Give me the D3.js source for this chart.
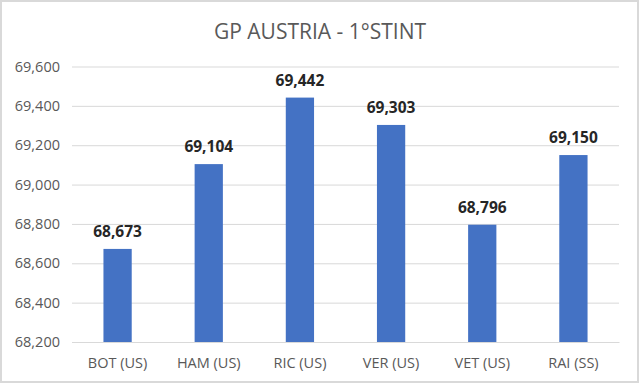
<!DOCTYPE html>
<html>
<head>
<meta charset="utf-8">
<script src="https://cdn.jsdelivr.net/npm/d3@7"></script>
<style>
  html, body { margin: 0; padding: 0; background: #fff; }
  svg { display: block; }
</style>
</head>
<body>
<svg id="chart" width="640" height="385"></svg>
<script>
const title = "GP AUSTRIA - 1°STINT";
const categories = ["BOT (US)", "HAM (US)", "RIC (US)", "VER (US)", "VET (US)", "RAI (SS)"];
const values = [68673, 69104, 69442, 69303, 68796, 69150];
const yTicks = [68200, 68400, 68600, 68800, 69000, 69200, 69400, 69600];

const W = 640, H = 385;
const margin = { left: 72, right: 21, top: 66.5, bottom: 43 };
const svg = d3.select("#chart");
const font = "'Open Sans', 'Noto Sans', sans-serif";

svg.append("rect").attr("x", 1).attr("y", 1).attr("width", W - 3).attr("height", H - 4)
  .attr("fill", "#fff").attr("stroke", "#d9d9d9").attr("stroke-width", 2);

const x = d3.scaleBand().domain(categories).range([margin.left, W - margin.right]).paddingInner(0.69).paddingOuter(0.345);
const y = d3.scaleLinear().domain([68200, 69600]).range([H - margin.bottom, margin.top]);

const fmt = d3.format(",");

// gridlines + y labels
const gy = svg.append("g").attr("transform", `translate(${margin.left},0)`)
  .call(d3.axisLeft(y).tickValues(yTicks).tickSize(-(W - margin.left - margin.right)).tickPadding(12).tickFormat(fmt));
gy.select(".domain").remove();
gy.selectAll(".tick line").attr("stroke", "#d9d9d9").attr("stroke-width", 1);
gy.selectAll(".tick text").attr("fill", "#595959").style("font-family", font).style("font-size", "14.5px");

// bars
svg.append("g").selectAll("rect").data(values).join("rect")
  .attr("x", (d, i) => x(categories[i]))
  .attr("width", x.bandwidth())
  .attr("y", d => y(d))
  .attr("height", d => y(68200) - y(d))
  .attr("fill", "#4472C4");

// data labels
svg.append("g").selectAll("text").data(values).join("text")
  .attr("x", (d, i) => x(categories[i]) + x.bandwidth() / 2)
  .attr("y", d => y(d) - 12)
  .attr("text-anchor", "middle")
  .attr("fill", "#262626")
  .style("font-family", font).style("font-size", "15.5px").style("font-weight", "bold")
  .text(d => fmt(d));

// x axis
const gx = svg.append("g").attr("transform", `translate(0,${H - margin.bottom})`)
  .call(d3.axisBottom(x).tickSize(0).tickPadding(16));
gx.select(".domain").attr("stroke", "#d9d9d9").attr("stroke-width", 1);
gx.selectAll(".tick text").attr("fill", "#595959").style("font-family", font).style("font-size", "14.5px");

// title
svg.append("text").attr("x", 320).attr("y", 38.5).attr("text-anchor", "middle")
  .attr("fill", "#595959").style("font-family", font).style("font-size", "21px")
  .text(title);
</script>
</body>
</html>
